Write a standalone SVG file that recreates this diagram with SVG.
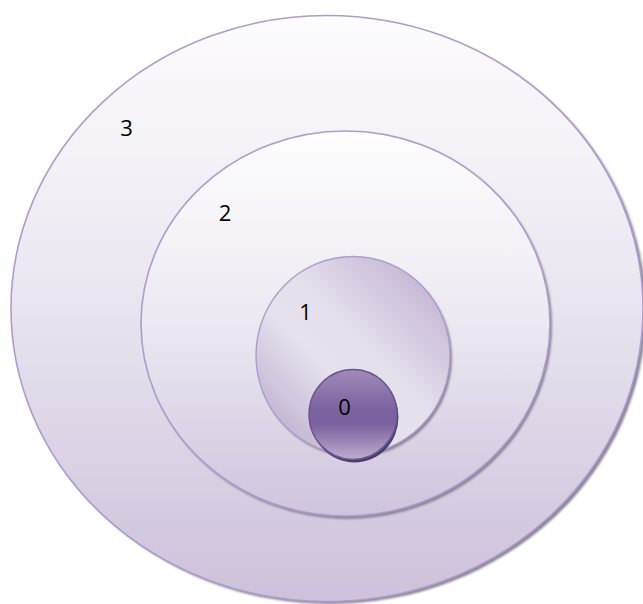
<svg xmlns="http://www.w3.org/2000/svg" width="643" height="604" viewBox="0 0 643 604">
<defs>
<linearGradient id="gv" x1="0" y1="0" x2="0" y2="1">
<stop offset="0" stop-color="#fdfcfe"/>
<stop offset="0.45" stop-color="#ece7f1"/>
<stop offset="1" stop-color="#cdc1db"/>
</linearGradient>
<linearGradient id="gv2" x1="0" y1="0" x2="0" y2="1">
<stop offset="0" stop-color="#fefefe"/>
<stop offset="0.5" stop-color="#ede8f2"/>
<stop offset="1" stop-color="#cfc4dd"/>
</linearGradient>
<linearGradient id="g1" x1="1" y1="0" x2="0" y2="1">
<stop offset="0" stop-color="#b8a8cc"/>
<stop offset="0.45" stop-color="#e6e0ed"/>
<stop offset="0.6" stop-color="#e7e1ee"/>
<stop offset="1" stop-color="#b1a1c6"/>
</linearGradient>
<linearGradient id="g0" x1="0" y1="0" x2="0" y2="1">
<stop offset="0" stop-color="#9f8bba"/>
<stop offset="0.45" stop-color="#7c619f"/>
<stop offset="0.6" stop-color="#7b5f9e"/>
<stop offset="1" stop-color="#bcaecf"/>
</linearGradient>
<filter id="sh" x="-10%" y="-10%" width="120%" height="120%">
<feGaussianBlur stdDeviation="0.8"/>
</filter>
</defs>
<style>
.sh{fill:#8d8499;filter:url(#sh)}
.ring{stroke:#ad9dcb;stroke-width:1.6}
.lbl{font-family:"Open Sans","Liberation Sans",sans-serif;font-size:22px;fill:#000;text-anchor:middle}
</style>
<g id="node-3">
<ellipse class="sh" cx="330" cy="311" rx="316" ry="293"/>
<ellipse class="ring" cx="327" cy="308.5" rx="316" ry="293" fill="url(#gv)"/>
<text class="lbl" x="126.5" y="136">3</text>
</g>
<g id="node-2">
<ellipse class="sh" cx="347.5" cy="326" rx="204.5" ry="193"/>
<ellipse class="ring" cx="345.5" cy="323.5" rx="204.5" ry="192.5" fill="url(#gv2)"/>
<text class="lbl" x="225" y="221">2</text>
</g>
<g id="node-1">
<ellipse class="sh" cx="355" cy="358" rx="97" ry="99"/>
<ellipse cx="353" cy="355.5" rx="97" ry="99" fill="url(#g1)" stroke="#ad9dcb" stroke-width="1.4"/>
<text class="lbl" x="305.5" y="320">1</text>
</g>
<g id="node-0">
<ellipse cx="354.5" cy="417" rx="44" ry="45.5" fill="#4e3d68"/>
<ellipse cx="353" cy="414.5" rx="44" ry="45" fill="url(#g0)" stroke="#6b5590" stroke-width="1.4"/>
<text class="lbl" x="344.5" y="415">0</text>
</g>
<g id="connectors"/>
</svg>
